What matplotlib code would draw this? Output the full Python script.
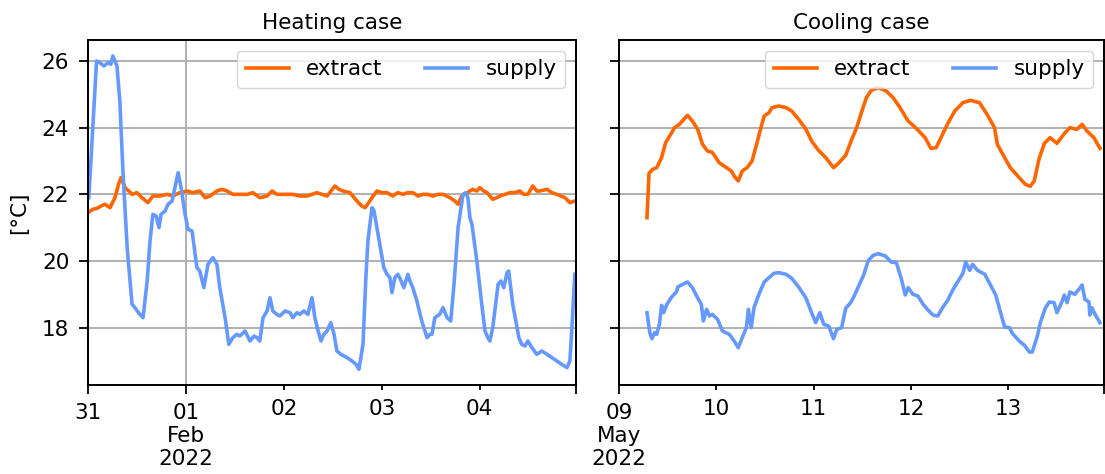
import matplotlib
matplotlib.use("Agg")
import matplotlib.pyplot as plt
import matplotlib.dates as mdates
from matplotlib.ticker import FixedLocator, FixedFormatter
import pandas as pd

EXTRACT_COLOR = "#ff6600"
SUPPLY_COLOR = "#6699ff"
FONT_SIZE = 15.5

# heating case, hours after 2022-01-31 00:00
heat_start = "2022-01-31"
heat_extract_h = [
    0.2, 1.2, 2.2, 3.2, 4.2, 5.4, 6.6, 7.6, 8.1, 9.1, 10.0, 10.8, 12.0, 13.2, 14.7, 15.9,
    17.6, 19.4, 20.8, 22.5, 24.3, 25.7, 27.4, 28.7, 29.9, 31.6, 32.8, 34.1, 35.5, 37.2,
    39.0, 40.4, 42.1, 43.9, 45.1, 46.3, 47.8, 49.5, 50.2, 51.9, 53.7, 54.9, 56.1, 57.3,
    58.6, 60.5, 61.5, 62.5, 64.2, 65.9, 67.1, 67.9, 68.8, 69.6, 70.8, 72.0, 73.3, 74.7,
    75.9, 77.2, 78.4, 79.6, 80.9, 82.1, 83.3, 84.5, 85.8, 87.0, 88.7, 89.9, 90.7, 91.6,
    92.9, 94.3, 95.3, 96.0, 97.0, 97.8, 99.2, 100.2, 100.9, 102.2, 103.4, 104.6, 105.8,
    106.8, 107.8, 109.0, 110.0, 110.7, 112.5, 113.7, 114.9, 115.9, 116.9, 118.1, 119.3,
]
heat_extract = [
    21.47, 21.55, 21.58, 21.65, 21.70, 21.60, 21.90, 22.35, 22.50, 22.20, 22.10, 22.00,
    22.05, 21.90, 21.75, 21.95, 21.95, 22.00, 21.95, 22.05, 22.10, 22.05, 22.10, 21.90,
    21.95, 22.10, 22.15, 22.10, 22.00, 22.00, 22.00, 22.05, 21.90, 21.95, 22.10, 22.00,
    22.00, 22.00, 22.00, 21.95, 21.95, 22.00, 22.05, 22.00, 21.95, 22.25, 22.15, 22.10,
    22.05, 21.80, 21.65, 21.60, 21.75, 21.90, 22.10, 22.05, 22.05, 21.95, 22.05, 22.00,
    22.05, 22.05, 21.95, 22.00, 22.00, 21.95, 22.00, 22.00, 21.90, 21.80, 21.70, 21.95,
    22.05, 22.15, 22.10, 22.20, 22.10, 22.05, 21.85, 21.90, 21.95, 22.00, 22.05, 22.05,
    22.10, 22.00, 22.00, 22.25, 22.10, 22.10, 22.15, 22.05, 22.00, 21.95, 21.90, 21.75,
    21.80,
]
heat_supply_h = [
    0.2, 2.1, 2.9, 3.9, 4.9, 5.6, 6.1, 7.1, 7.8, 8.6, 9.6, 10.8, 11.5, 12.7, 13.5, 14.5,
    15.2, 15.9, 16.7, 17.4, 17.9, 18.9, 19.6, 20.6, 21.3, 22.1, 22.8, 23.8, 24.5, 25.5,
    26.7, 27.4, 28.4, 29.4, 30.6, 31.6, 32.3, 33.6, 34.5, 35.5, 36.5, 37.2, 38.5, 39.7,
    40.7, 41.4, 42.1, 42.9, 43.9, 44.6, 45.3, 46.3, 47.0, 48.3, 49.5, 50.2, 51.2, 51.9,
    52.9, 53.9, 54.9, 55.6, 56.4, 57.1, 57.8, 58.6, 59.5, 60.3, 61.0, 62.0, 63.5, 64.7,
    65.7, 66.4, 67.4, 68.1, 68.6, 69.6, 70.1, 70.8, 71.5, 72.5, 73.3, 74.0, 74.5, 75.2,
    75.9, 76.4, 77.4, 78.4, 78.9, 79.6, 80.6, 81.8, 83.1, 83.8, 84.3, 85.0, 86.2, 87.0,
    88.0, 88.9, 89.7, 90.7, 91.9, 92.6, 93.1, 93.6, 94.1, 95.3, 96.5, 97.3, 98.0, 98.5,
    99.2, 100.5, 101.2, 101.9, 102.7, 103.1, 104.1, 105.6, 106.3, 107.1, 107.8, 108.8,
    110.0, 111.2, 112.5, 113.7, 114.9, 116.1, 117.4, 118.1, 118.6, 119.3,
]
heat_supply = [
    21.90, 26.00, 25.95, 25.85, 25.95, 25.90, 26.15, 25.85, 24.80, 22.60, 20.40, 18.70,
    18.60, 18.40, 18.30, 19.40, 20.60, 21.40, 21.35, 21.00, 21.40, 21.50, 21.70, 21.80,
    22.20, 22.65, 22.20, 21.40, 20.95, 20.90, 19.80, 19.70, 19.20, 19.90, 20.10, 19.90,
    19.20, 18.30, 17.50, 17.70, 17.80, 17.75, 17.90, 17.60, 17.75, 17.70, 17.60, 18.30,
    18.50, 18.90, 18.50, 18.40, 18.35, 18.50, 18.45, 18.30, 18.45, 18.40, 18.50, 18.40,
    18.90, 18.30, 17.90, 17.60, 17.80, 17.90, 18.15, 17.80, 17.30, 17.20, 17.10, 17.00,
    16.90, 16.75, 17.50, 19.50, 20.60, 21.60, 21.50, 21.00, 20.50, 19.80, 19.60, 19.50,
    19.05, 19.50, 19.60, 19.50, 19.20, 19.60, 19.40, 19.20, 18.80, 18.20, 17.70, 17.80,
    17.80, 18.30, 18.40, 18.60, 18.30, 18.20, 19.30, 21.00, 22.00, 22.05, 21.90, 21.30,
    21.10, 20.00, 18.70, 17.90, 17.70, 17.60, 18.00, 19.30, 19.40, 19.20, 19.65, 19.70,
    18.70, 17.70, 17.50, 17.45, 17.60, 17.40, 17.20, 17.30, 17.20, 17.10, 17.00, 16.90,
    16.80, 17.00, 18.00, 19.60,
]

# cooling case, hours after 2022-05-09 00:00
cool_start = "2022-05-09"
cool_extract_h = [
    6.9, 7.4, 8.3, 9.3, 10.5, 11.5, 12.5, 13.7, 14.9, 16.2, 16.9, 18.1, 19.4, 20.6, 21.8,
    23.0, 24.7, 26.5, 27.7, 28.4, 29.4, 30.4, 31.6, 32.8, 33.6, 35.0, 35.8, 37.0, 37.7,
    39.4, 41.2, 42.6, 44.3, 46.1, 47.5, 49.2, 51.0, 52.9, 54.1, 55.9, 57.3, 58.6, 59.8,
    61.0, 62.2, 63.9, 65.9, 67.6, 69.3, 71.3, 73.3, 75.5, 76.9, 78.2, 79.4, 81.1, 82.8,
    84.8, 86.7, 88.9, 90.9, 92.6, 93.3, 95.1, 96.5, 98.7, 100.2, 101.4, 102.4, 103.6,
    104.9, 106.3, 108.0, 109.8, 111.2, 112.9, 114.2, 115.4, 117.1, 118.6,
]
cool_extract = [
    21.30, 22.63, 22.75, 22.80, 23.10, 23.55, 23.75, 24.00, 24.10, 24.28, 24.37, 24.20,
    23.95, 23.50, 23.30, 23.26, 22.95, 22.80, 22.70, 22.55, 22.40, 22.70, 22.80, 23.00,
    23.35, 24.00, 24.35, 24.45, 24.60, 24.65, 24.60, 24.50, 24.25, 23.95, 23.60, 23.32,
    23.10, 22.80, 22.93, 23.17, 23.62, 24.00, 24.46, 24.90, 25.12, 25.20, 25.10, 24.90,
    24.60, 24.20, 23.98, 23.70, 23.38, 23.40, 23.70, 24.13, 24.50, 24.75, 24.82, 24.75,
    24.37, 24.00, 23.50, 23.10, 22.80, 22.50, 22.30, 22.24, 22.40, 23.07, 23.53, 23.70,
    23.53, 23.82, 24.00, 23.95, 24.10, 23.90, 23.70, 23.38,
]
cool_supply_h = [
    6.9, 7.6, 8.1, 8.8, 9.3, 10.0, 10.5, 11.0, 11.8, 13.0, 14.2, 14.5, 15.7, 16.9, 18.1,
    19.4, 20.3, 20.8, 21.6, 22.3, 23.0, 24.3, 25.5, 27.2, 28.4, 29.4, 30.4, 31.4, 31.9,
    32.6, 33.3, 34.5, 35.8, 37.0, 38.2, 39.4, 41.2, 42.6, 44.3, 46.1, 47.5, 48.5, 49.5,
    50.5, 51.7, 52.9, 53.7, 54.9, 55.9, 57.1, 57.8, 59.0, 60.3, 61.5, 62.7, 63.9, 65.7,
    67.1, 68.4, 69.6, 70.6, 71.3, 72.5, 73.7, 75.0, 76.2, 77.4, 78.6, 79.9, 81.1, 82.3,
    83.5, 84.8, 85.5, 86.5, 87.2, 88.4, 90.2, 91.6, 92.9, 94.1, 95.1, 96.3, 97.0, 98.7,
    100.0, 101.2, 101.9, 103.1, 103.9, 105.1, 106.1, 107.3, 108.0, 109.3, 109.8, 110.5,
    111.2, 112.4, 113.4, 114.2, 114.9, 115.9, 116.1, 116.6, 117.4, 118.6,
]
cool_supply = [
    18.45, 17.85, 17.67, 17.85, 17.80, 18.13, 18.67, 18.45, 18.70, 18.92, 19.08, 19.22,
    19.30, 19.37, 19.20, 18.89, 18.70, 18.20, 18.55, 18.35, 18.40, 18.25, 17.90, 17.80,
    17.60, 17.40, 17.70, 18.00, 18.55, 18.00, 18.60, 19.00, 19.37, 19.50, 19.63, 19.65,
    19.60, 19.48, 19.22, 18.89, 18.45, 18.15, 18.45, 18.10, 18.05, 17.67, 17.95, 18.00,
    18.58, 18.75, 18.90, 19.22, 19.57, 20.02, 20.17, 20.22, 20.15, 19.97, 19.95, 19.48,
    18.98, 19.20, 19.00, 18.95, 18.70, 18.53, 18.38, 18.35, 18.62, 18.83, 19.13, 19.37,
    19.63, 19.97, 19.72, 19.90, 19.72, 19.60, 19.28, 18.98, 18.45, 18.02, 18.00, 17.83,
    17.60, 17.47, 17.27, 17.27, 17.72, 18.15, 18.58, 18.77, 18.75, 18.45, 18.80, 18.98,
    18.75, 19.07, 19.00, 19.15, 19.28, 18.85, 18.77, 18.38, 18.60, 18.40, 18.15,
]

y_ticks = [18, 20, 22, 24, 26]
y_range = (16.28, 26.63)
span_hours = 119.6


def to_times(start: str, hours: list[float]) -> pd.DatetimeIndex:
    return pd.Timestamp(start) + pd.to_timedelta(hours, unit="h")


def style_axis(ax, start: str, major_labels: list[str], minor_days: list[str], minor_labels: list[str]) -> None:
    t0 = pd.Timestamp(start)
    t1 = t0 + pd.Timedelta(hours=span_hours)
    major = [t0]
    if len(major_labels) > 1:
        major.append(t0 + pd.Timedelta(days=1))
    major_pos = [mdates.date2num(t) for t in major] + [mdates.date2num(t1)]
    ax.xaxis.set_major_locator(FixedLocator(major_pos))
    ax.xaxis.set_major_formatter(FixedFormatter(major_labels + [""]))
    minor_pos = [mdates.date2num(pd.Timestamp(d)) for d in minor_days]
    ax.xaxis.set_minor_locator(FixedLocator(minor_pos))
    ax.xaxis.set_minor_formatter(FixedFormatter(minor_labels))
    ax.set_xlim(mdates.date2num(t0), mdates.date2num(t1))
    ax.set_ylim(*y_range)
    ax.set_yticks(y_ticks)
    ax.grid(True, which="major", color="#b0b0b0", linewidth=1.4)
    ax.tick_params(axis="x", which="major", length=6.5, width=1.3, labelsize=FONT_SIZE, pad=6.5)
    ax.tick_params(axis="x", which="minor", length=3.6, width=1.3, labelsize=FONT_SIZE, pad=6.3)
    ax.tick_params(axis="y", length=6.5, width=1.3, labelsize=FONT_SIZE, pad=7)
    for spine in ax.spines.values():
        spine.set_linewidth(1.4)
    ax.legend(loc="upper right", ncol=2, fontsize=FONT_SIZE, handlelength=2.0, columnspacing=2.0)


def main() -> None:
    fig = plt.figure(figsize=(11.05, 4.74), dpi=100)
    ax_heat = fig.add_axes([88 / 1105, 89 / 474, 488 / 1105, 345 / 474])
    ax_cool = fig.add_axes([619 / 1105, 89 / 474, 485 / 1105, 345 / 474], sharey=ax_heat)

    ax_heat.plot(to_times(heat_start, heat_extract_h), heat_extract, color=EXTRACT_COLOR, lw=2.6, label="extract")
    ax_heat.plot(to_times(heat_start, heat_supply_h), heat_supply, color=SUPPLY_COLOR, lw=2.6, label="supply")
    ax_cool.plot(to_times(cool_start, cool_extract_h), cool_extract, color=EXTRACT_COLOR, lw=2.6, label="extract")
    ax_cool.plot(to_times(cool_start, cool_supply_h), cool_supply, color=SUPPLY_COLOR, lw=2.6, label="supply")

    style_axis(ax_heat, heat_start, ["31", "01\nFeb\n2022"],
               ["2022-02-02", "2022-02-03", "2022-02-04"], ["02", "03", "04"])
    style_axis(ax_cool, cool_start, ["09\nMay\n2022"],
               ["2022-05-10", "2022-05-11", "2022-05-12", "2022-05-13"], ["10", "11", "12", "13"])
    ax_cool.tick_params(axis="y", labelleft=False)

    ax_heat.set_title("Heating case", fontsize=FONT_SIZE, pad=8)
    ax_cool.set_title("Cooling case", fontsize=FONT_SIZE, pad=8)
    ax_heat.set_ylabel("[°C]", fontsize=FONT_SIZE, labelpad=9)

    fig.savefig("out.png", dpi=100)
    plt.close(fig)


if __name__ == "__main__":
    main()
